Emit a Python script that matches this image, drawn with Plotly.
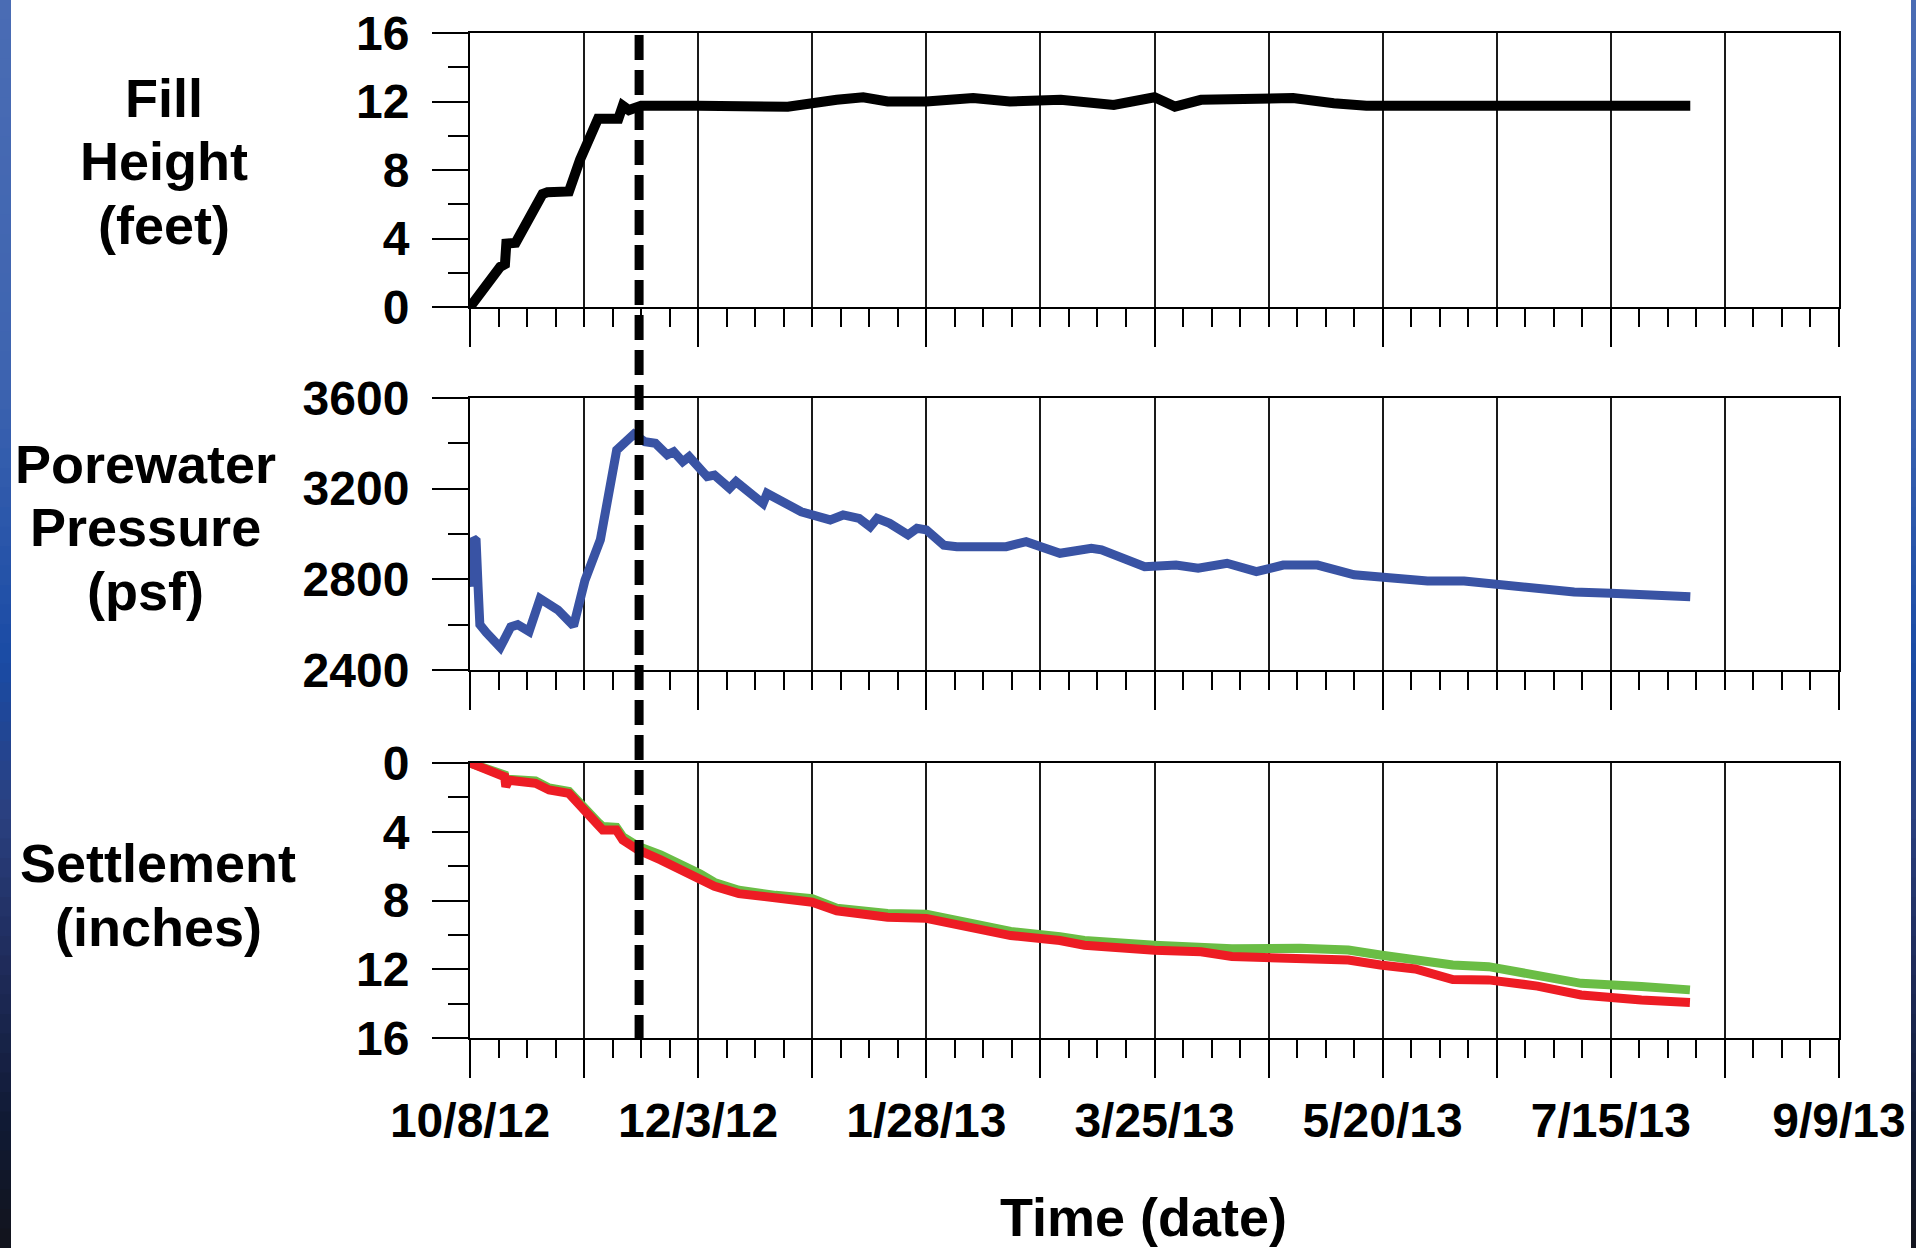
import plotly.graph_objects as go

# ---------------- data ----------------
fill_dates = ["2012-10-08", "2012-10-11", "2012-10-15 10:00", "2012-10-16 14:00", "2012-10-16 22:00",
              "2012-10-19 05:00", "2012-10-23", "2012-10-25 19:00", "2012-10-27", "2012-11-01 07:00",
              "2012-11-04", "2012-11-08 10:00", "2012-11-13 10:00", "2012-11-14 12:00", "2012-11-16",
              "2012-11-17 12:00", "2012-11-19", "2012-12-03", "2012-12-13", "2012-12-19", "2012-12-25",
              "2013-01-06", "2013-01-12 12:00", "2013-01-18 12:00", "2013-01-28", "2013-02-08 12:00",
              "2013-02-17 12:00", "2013-03-02", "2013-03-08", "2013-03-15", "2013-03-25", "2013-03-30",
              "2013-04-05 10:00", "2013-04-28", "2013-05-08", "2013-05-16", "2013-08-03 12:00"]
fill_height_ft = [0.0, 1.0, 2.35, 2.5, 3.7,
                  3.75, 5.5, 6.6, 6.7, 6.75,
                  8.6, 11.0, 11.0, 11.75, 11.5,
                  11.7, 11.75, 11.75, 11.75, 11.8, 11.7,
                  12.1, 12.25, 12.0, 12.0, 12.2,
                  12.0, 12.1, 11.95, 11.8, 12.25, 11.7,
                  12.1, 12.2, 11.9, 11.75, 11.75]

pore_dates = ["2012-10-08 00:00", "2012-10-08 07:00", "2012-10-08 19:00", "2012-10-09 12:00", "2012-10-10 00:00",
              "2012-10-10 10:00", "2012-10-12", "2012-10-15 10:00", "2012-10-18", "2012-10-19 17:00",
              "2012-10-22 12:00", "2012-10-25 05:00", "2012-10-29 14:00", "2012-11-02 10:00", "2012-11-05 05:00",
              "2012-11-09", "2012-11-13", "2012-11-17 05:00", "2012-11-19 22:00", "2012-11-22 12:00",
              "2012-11-25 10:00", "2012-11-27", "2012-11-29 05:00", "2012-11-30 19:00", "2012-12-05 05:00",
              "2012-12-07", "2012-12-10 17:00", "2012-12-12 07:00", "2012-12-18 22:00", "2012-12-19 22:00",
              "2012-12-28 07:00", "2013-01-04 10:00", "2013-01-07 14:00", "2013-01-11 12:00", "2013-01-14 05:00",
              "2013-01-15 22:00", "2013-01-19", "2013-01-23 12:00", "2013-01-25 17:00", "2013-01-28",
              "2013-02-01 07:00", "2013-02-04 12:00", "2013-02-16 14:00", "2013-02-21 12:00", "2013-03-01 19:00",
              "2013-03-09 12:00", "2013-03-12", "2013-03-22 14:00", "2013-03-30 07:00", "2013-04-04 17:00",
              "2013-04-11 19:00", "2013-04-19", "2013-04-25 14:00", "2013-05-04", "2013-05-13",
              "2013-05-22", "2013-05-31", "2013-06-09", "2013-06-18", "2013-06-27",
              "2013-07-06", "2013-07-15", "2013-07-24 12:00", "2013-08-03 12:00"]
pore_pressure_psf = [2790, 2770, 2980, 2970, 2760,
                     2600, 2565, 2500, 2590, 2600,
                     2570, 2715, 2665, 2595, 2795,
                     2975, 3370, 3440, 3407, 3400,
                     3349, 3363, 3319, 3341, 3253,
                     3260, 3202, 3231, 3135, 3179,
                     3098, 3062, 3084, 3069, 3032,
                     3069, 3047, 2996, 3025, 3018,
                     2951, 2944, 2944, 2966, 2915,
                     2937, 2930, 2856, 2863, 2849,
                     2871, 2834, 2863, 2863, 2820,
                     2804, 2793, 2793, 2777, 2755,
                     2744, 2739, 2734, 2723]

settle_dates = ["2012-10-08", "2012-10-13 05:00", "2012-10-16 12:00", "2012-10-16 19:00", "2012-10-17 12:00",
                "2012-10-24 02:00", "2012-10-27 10:00", "2012-11-01 07:00", "2012-11-04", "2012-11-08 10:00",
                "2012-11-09 14:00", "2012-11-12 22:00", "2012-11-14 12:00", "2012-11-18 07:00", "2012-11-23 19:00",
                "2012-11-29 07:00", "2012-12-03 12:00", "2012-12-07", "2012-12-13", "2012-12-22",
                "2012-12-31", "2013-01-06", "2013-01-18 12:00", "2013-01-28", "2013-02-05 14:00",
                "2013-02-17 17:00", "2013-03-01 19:00", "2013-03-07 19:00", "2013-03-25", "2013-04-05 10:00",
                "2013-04-13", "2013-04-29 17:00", "2013-05-11 14:00", "2013-05-19 10:00", "2013-05-28",
                "2013-06-06 05:00", "2013-06-15", "2013-06-27", "2013-07-07 17:00", "2013-07-22 12:00",
                "2013-08-03 10:00"]
settlement_red_in = [0.0, 0.5, 0.8, 1.38, 1.0,
                     1.18, 1.57, 1.77, 2.54, 3.6,
                     3.9, 3.9, 4.48, 5.06, 5.64,
                     6.22, 6.7, 7.17, 7.6, 7.9,
                     8.1, 8.6, 8.97, 9.04, 9.47,
                     10.04, 10.33, 10.6, 10.9, 10.98,
                     11.26, 11.36, 11.46, 11.75, 11.98,
                     12.6, 12.62, 12.98, 13.5, 13.79,
                     13.94]
settlement_green_in = [0.0, 0.4, 0.7, 1.0, 0.95,
                       1.05, 1.45, 1.65, 2.4, 3.45,
                       3.7, 3.75, 4.3, 4.85, 5.35,
                       5.95, 6.45, 6.95, 7.4, 7.7,
                       7.9, 8.45, 8.75, 8.8, 9.25,
                       9.8, 10.1, 10.33, 10.6, 10.75,
                       10.8, 10.78, 10.88, 11.17, 11.45,
                       11.75, 11.85, 12.3, 12.82, 13.01,
                       13.2]

x_tick_dates = ["2012-10-08", "2012-11-05", "2012-12-03", "2012-12-31", "2013-01-28", "2013-02-25",
                "2013-03-25", "2013-04-22", "2013-05-20", "2013-06-17", "2013-07-15", "2013-08-12",
                "2013-09-09"]
x_tick_labels = ["10/8/12", "", "12/3/12", "", "1/28/13", "", "3/25/13", "", "5/20/13", "",
                 "7/15/13", "", "9/9/13"]
x_range = ["2012-10-08", "2013-09-09"]
event_date = "2012-11-18 12:00"

fill_ticks = [0, 4, 8, 12, 16]
pore_ticks = [2400, 2800, 3200, 3600]
settle_ticks = [0, 4, 8, 12, 16]

# ---------------- figure ----------------
W, H = 1930, 1248
FONT = "Liberation Sans, Arial, Helvetica, sans-serif"

def px_x(p):
    return p / W

def px_y(p):
    return 1 - p / H

fig = go.Figure()
fig.add_trace(go.Scatter(x=fill_dates, y=fill_height_ft, mode="lines",
                         line=dict(color="#000000", width=10), xaxis="x", yaxis="y",
                         showlegend=False))
fig.add_trace(go.Scatter(x=pore_dates, y=pore_pressure_psf, mode="lines",
                         line=dict(color="#3953a4", width=9), xaxis="x2", yaxis="y2",
                         showlegend=False))
fig.add_trace(go.Scatter(x=settle_dates, y=settlement_green_in, mode="lines",
                         line=dict(color="#6abd45", width=9), xaxis="x3", yaxis="y3",
                         showlegend=False))
fig.add_trace(go.Scatter(x=settle_dates, y=settlement_red_in, mode="lines",
                         line=dict(color="#ed1c24", width=9), xaxis="x3", yaxis="y3",
                         showlegend=False))

tickfont = dict(family=FONT, size=48, color="black", weight="bold")
xdom = [px_x(470), px_x(1839)]
WEEK_MS = 7 * 24 * 3600 * 1000


def xaxis_common(anchor, labels):
    return dict(domain=xdom, anchor=anchor, type="date", range=x_range, automargin=False,
                tickmode="array", tickvals=x_tick_dates, ticktext=x_tick_labels,
                showticklabels=labels, tickfont=tickfont, ticklabelstandoff=1,
                ticks="outside", ticklen=38, tickwidth=2, tickcolor="black",
                showgrid=True, gridcolor="#1a1a1a", gridwidth=1.5,
                showline=True, linecolor="black", linewidth=2, mirror=True,
                zeroline=False,
                minor=dict(tickmode="linear", tick0="2012-10-08", dtick=WEEK_MS,
                           ticks="outside", ticklen=18, tickwidth=2, tickcolor="black",
                           showgrid=False))


def yaxis_common(anchor, dom, rng, tickvals, minor_dtick, minor_tick0):
    return dict(domain=dom, anchor=anchor, range=rng, tickmode="array", tickvals=tickvals,
                automargin=False, tickfont=tickfont, ticklabelstandoff=13,
                ticks="outside", ticklen=36, tickwidth=2, tickcolor="black",
                showgrid=False, zeroline=False,
                showline=True, linecolor="black", linewidth=2, mirror=True,
                minor=dict(tickmode="linear", tick0=minor_tick0, dtick=minor_dtick,
                           ticks="outside", ticklen=20, tickwidth=2, tickcolor="black",
                           showgrid=False))


fig.update_layout(
    width=W, height=H, margin=dict(l=0, r=0, t=0, b=0, pad=0, autoexpand=False),
    paper_bgcolor="white", plot_bgcolor="white",
    xaxis=xaxis_common("y", False),
    xaxis2=xaxis_common("y2", False),
    xaxis3=xaxis_common("y3", True),
    yaxis=yaxis_common("x", [px_y(307), px_y(33)], [0, 16], fill_ticks, 2, 0),
    yaxis2=yaxis_common("x2", [px_y(670), px_y(398)], [2400, 3600], pore_ticks, 200, 2400),
    yaxis3=yaxis_common("x3", [px_y(1038), px_y(763)], [16, 0], settle_ticks, 2, 0),
)

# dashed marker line
fig.add_shape(type="line", xref="x", yref="paper", x0=event_date, x1=event_date,
              y0=px_y(1040), y1=px_y(28), line=dict(color="black", width=9, dash="25px,10px"),
              layer="above")

# titles
title_font = dict(family=FONT, size=54, color="black", weight="bold")
titles = [("Fill", 164, 98), ("Height", 164, 161), ("(feet)", 164, 225),
          ("Porewater", 145, 464), ("Pressure", 145, 527), ("(psf)", 145, 591),
          ("Settlement", 158, 863), ("(inches)", 158, 927),
          ("Time (date)", 1143, 1217)]
for txt, cx, cy in titles:
    fig.add_annotation(text=txt, xref="paper", yref="paper", x=px_x(cx), y=px_y(cy),
                       xanchor="center", yanchor="middle", showarrow=False, font=title_font)

# blue gradient side strips (decoration)
stops = [(0.0, (74, 108, 180)), (0.3, (62, 100, 176)), (0.53, (26, 75, 165)),
         (0.65, (42, 64, 128)), (0.78, (30, 42, 88)), (0.9, (16, 26, 52)), (1.0, (18, 20, 28))]


def grad(t):
    for (t0, c0), (t1, c1) in zip(stops[:-1], stops[1:]):
        if t0 <= t <= t1:
            f = (t - t0) / (t1 - t0)
            return "rgb(%d,%d,%d)" % tuple(round(a + (b - a) * f) for a, b in zip(c0, c1))
    return "rgb(%d,%d,%d)" % stops[-1][1]


N = 64
for i in range(N):
    t = (i + 0.5) / N
    col = grad(t)
    for x0, x1 in [(0, 11), (1911, 1916)]:
        fig.add_shape(type="rect", xref="paper", yref="paper",
                      x0=px_x(x0), x1=px_x(x1), y0=1 - (i + 1) / N - 0.001, y1=1 - i / N,
                      line=dict(width=0), fillcolor=col, layer="above")

fig.write_html("out.html", config={"displayModeBar": False},
               post_script="document.body.style.margin='0';document.body.style.overflow='hidden';")
